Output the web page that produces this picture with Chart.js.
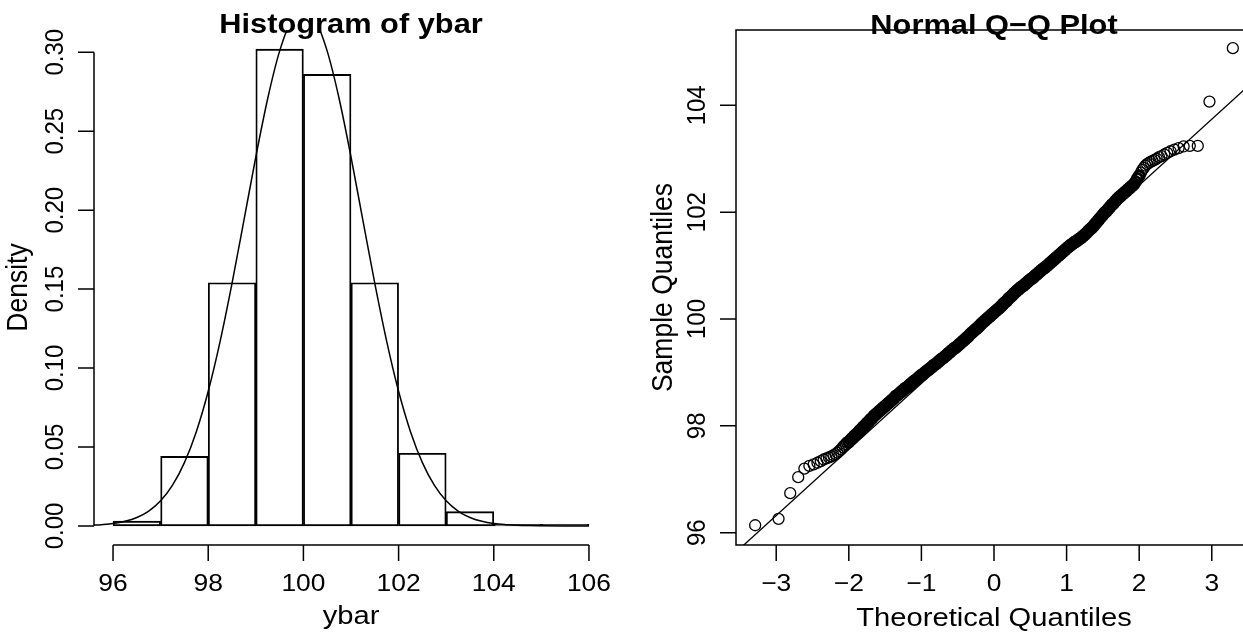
<!DOCTYPE html>
<html lang="en">
<head>
<meta charset="UTF-8" />
<title>Histogram of ybar / Normal Q-Q Plot</title>
<script src="https://cdn.jsdelivr.net/npm/chart.js@4.4.1/dist/chart.umd.min.js"></script>
<style>
  html, body { margin: 0; padding: 0; background: #fff; overflow: hidden; }
  #wrap { position: relative; width: 1243px; height: 632px; overflow: hidden; background: #fff; }
  #histCanvas { position: absolute; left: 0; top: 0; }
  #qqCanvas { position: absolute; left: 621px; top: 0; }
</style>
</head>
<body>
<div id="wrap">
  <canvas id="histCanvas" width="621" height="632"></canvas>
  <canvas id="qqCanvas" width="640" height="632"></canvas>
</div>
<script>
// ---- histogram data (density per bin of width 1) ----
const binCenters = [96.5, 97.5, 98.5, 99.5, 100.5, 101.5, 102.5, 103.5, 104.5, 105.5];
const binDensity = [0.003, 0.044, 0.154, 0.302, 0.286, 0.154, 0.046, 0.009, 0.001, 0.001];
const histXTicks = [96, 98, 100, 102, 104, 106];
const histYTicks = [0, 0.05, 0.1, 0.15, 0.2, 0.25, 0.3];
const histYLabels = ["0.00", "0.05", "0.10", "0.15", "0.20", "0.25", "0.30"];

// normal density curve drawn over the histogram
const curveX = [95.6, 95.75, 96, 96.25, 96.5, 96.75, 97, 97.25, 97.5, 97.75, 98, 98.25, 98.5, 98.75,
  99, 99.25, 99.5, 99.75, 100, 100.25, 100.5, 100.75, 101, 101.25, 101.5, 101.75, 102, 102.25,
  102.5, 102.75, 103, 103.25, 103.5, 103.75, 104, 104.25, 104.5, 104.75, 105, 105.5, 106];
const curveY = [0.0005, 0.0008, 0.0015, 0.0029, 0.0053, 0.0094, 0.0159, 0.0258, 0.0401, 0.0597, 0.0853, 0.1169, 0.1536, 0.1935,
  0.2337, 0.2707, 0.3007, 0.3202, 0.327, 0.3202, 0.3007, 0.2707, 0.2337, 0.1935, 0.1536, 0.1169, 0.0853, 0.0597,
  0.0401, 0.0258, 0.0159, 0.0094, 0.0053, 0.0029, 0.0015, 0.0008, 0.0004, 0.0002, 0.0001, 0, 0];

// ---- Q-Q plot data ----
const qqLowX = [-3.290, -2.968, -2.807, -2.697, -2.612, -2.543, -2.484, -2.432, -2.386, -2.346, -2.308,
  -2.273, -2.241, -2.211, -2.183, -2.157, -2.132, -2.108, -2.086, -2.064, -2.044, -2.024];
const qqLowY = [96.14, 96.26, 96.74, 97.04, 97.20, 97.25, 97.28, 97.31, 97.34, 97.37, 97.39,
  97.41, 97.43, 97.45, 97.47, 97.50, 97.53, 97.56, 97.60, 97.63, 97.66, 97.69];

const qqMidX = [-2.000, -1.975, -1.950, -1.925, -1.900, -1.875, -1.850, -1.825, -1.800, -1.775,
  -1.750, -1.725, -1.700, -1.675, -1.650, -1.625, -1.600, -1.575, -1.550, -1.525,
  -1.500, -1.475, -1.450, -1.425, -1.400, -1.375, -1.350, -1.325, -1.300, -1.275,
  -1.250, -1.225, -1.200, -1.175, -1.150, -1.125, -1.100, -1.075, -1.050, -1.025,
  -1.000, -0.975, -0.950, -0.925, -0.900, -0.875, -0.850, -0.825, -0.800, -0.775,
  -0.750, -0.725, -0.700, -0.675, -0.650, -0.625, -0.600, -0.575, -0.550, -0.525,
  -0.500, -0.475, -0.450, -0.425, -0.400, -0.375, -0.350, -0.325, -0.300, -0.275,
  -0.250, -0.225, -0.200, -0.175, -0.150, -0.125, -0.100, -0.075, -0.050, -0.025,
  0.000, 0.025, 0.050, 0.075, 0.100, 0.125, 0.150, 0.175, 0.200, 0.225,
  0.250, 0.275, 0.300, 0.325, 0.350, 0.375, 0.400, 0.425, 0.450, 0.475,
  0.500, 0.525, 0.550, 0.575, 0.600, 0.625, 0.650, 0.675, 0.700, 0.725,
  0.750, 0.775, 0.800, 0.825, 0.850, 0.875, 0.900, 0.925, 0.950, 0.975,
  1.000, 1.025, 1.050, 1.075, 1.100, 1.125, 1.150, 1.175, 1.200, 1.225,
  1.250, 1.275, 1.300, 1.325, 1.350, 1.375, 1.400, 1.425, 1.450, 1.475,
  1.500, 1.525, 1.550, 1.575, 1.600, 1.625, 1.650, 1.675, 1.700, 1.725,
  1.750, 1.775, 1.800, 1.825, 1.850, 1.875, 1.900, 1.925, 1.950, 1.975, 2.000];
const qqMidY = [97.70, 97.74, 97.77, 97.81, 97.84, 97.87, 97.91, 97.94, 97.98, 98.01,
  98.05, 98.08, 98.12, 98.15, 98.19, 98.22, 98.25, 98.28, 98.31, 98.34,
  98.37, 98.40, 98.43, 98.46, 98.49, 98.52, 98.56, 98.58, 98.61, 98.64,
  98.67, 98.70, 98.72, 98.75, 98.78, 98.81, 98.84, 98.86, 98.89, 98.92,
  98.95, 98.97, 99.00, 99.03, 99.05, 99.08, 99.11, 99.14, 99.16, 99.19,
  99.22, 99.25, 99.27, 99.30, 99.33, 99.36, 99.39, 99.42, 99.45, 99.47,
  99.50, 99.53, 99.56, 99.59, 99.62, 99.65, 99.68, 99.72, 99.75, 99.78,
  99.81, 99.84, 99.87, 99.91, 99.94, 99.97, 100.00, 100.03, 100.06, 100.09,
  100.12, 100.15, 100.18, 100.21, 100.24, 100.28, 100.31, 100.34, 100.38, 100.41,
  100.44, 100.48, 100.51, 100.54, 100.57, 100.60, 100.62, 100.65, 100.68, 100.71,
  100.74, 100.76, 100.79, 100.82, 100.85, 100.88, 100.91, 100.94, 100.96, 100.99,
  101.02, 101.05, 101.08, 101.11, 101.14, 101.17, 101.20, 101.23, 101.26, 101.29,
  101.32, 101.35, 101.38, 101.40, 101.43, 101.45, 101.47, 101.50, 101.52, 101.55,
  101.58, 101.61, 101.65, 101.68, 101.71, 101.75, 101.79, 101.83, 101.87, 101.91,
  101.95, 101.99, 102.02, 102.06, 102.10, 102.14, 102.17, 102.21, 102.25, 102.28,
  102.31, 102.34, 102.37, 102.40, 102.43, 102.46, 102.49, 102.52, 102.57, 102.63, 102.68];

const qqHighX = [2.024, 2.044, 2.064, 2.086, 2.108, 2.132, 2.157, 2.183, 2.211, 2.241, 2.273,
  2.308, 2.346, 2.386, 2.432, 2.484, 2.543, 2.612, 2.697, 2.807, 2.968, 3.290];
const qqHighY = [102.74, 102.79, 102.83, 102.87, 102.90, 102.92, 102.94, 102.96, 102.98, 103.00, 103.03,
  103.05, 103.08, 103.11, 103.14, 103.17, 103.20, 103.23, 103.24, 103.24, 104.07, 105.07];

// reference line through the quartiles
const qqLineX = [-3.6, 3.6];
const qqLineY = [95.58, 104.48];
const qqXTicks = [-3, -2, -1, 0, 1, 2, 3];
const qqYTicks = [96, 98, 100, 102, 104];

// ---- shared look ----
const FONT = '"Liberation Sans", Arial, Helvetica, sans-serif';
const TICK_FONT = '24px ' + FONT;
const LAB_FONT = '26.5px ' + FONT;
const MAIN_FONT = 'bold 28px ' + FONT;
const TEXT_SX = 1.1;   // the picture's text is a little wider than it is tall
const LINE_W = 1.5;
const TICK_LEN = 16;

function drawText(ctx, text, x, y, font, rotate) {
  ctx.save();
  ctx.font = font;
  ctx.fillStyle = '#000';
  ctx.textAlign = 'center';
  ctx.textBaseline = 'alphabetic';
  ctx.translate(x, y);
  ctx.scale(TEXT_SX, 1);
  if (rotate) ctx.rotate(-Math.PI / 2);
  ctx.fillText(text, 0, 0);
  ctx.restore();
}

function fmtMinus(v) {
  return v < 0 ? '\u2212' + Math.abs(v) : String(v);
}

// draws R-style axes: x axis along bottom, y axis along left, plus titles
function rAxes(id, cfg) {
  return {
    id: id,
    afterDatasetsDraw(chart) {
      const { ctx, chartArea, scales } = chart;
      const x = scales.x, y = scales.y;
      const left = chartArea.left, bottom = chartArea.bottom;
      ctx.save();
      ctx.strokeStyle = '#000';
      ctx.lineWidth = LINE_W;
      ctx.beginPath();
      if (cfg.box) {
        ctx.rect(left, chartArea.top, chartArea.right - left, bottom - chartArea.top);
      } else {
        ctx.moveTo(x.getPixelForValue(cfg.xTicks[0]), bottom);
        ctx.lineTo(x.getPixelForValue(cfg.xTicks[cfg.xTicks.length - 1]), bottom);
        ctx.moveTo(left, y.getPixelForValue(cfg.yTicks[0]));
        ctx.lineTo(left, y.getPixelForValue(cfg.yTicks[cfg.yTicks.length - 1]));
      }
      cfg.xTicks.forEach(t => {
        const px = x.getPixelForValue(t);
        ctx.moveTo(px, bottom);
        ctx.lineTo(px, bottom + TICK_LEN);
      });
      cfg.yTicks.forEach(t => {
        const py = y.getPixelForValue(t);
        ctx.moveTo(left, py);
        ctx.lineTo(left - TICK_LEN, py);
      });
      ctx.stroke();
      ctx.restore();

      cfg.xTicks.forEach((t, i) => {
        drawText(ctx, cfg.xLabels[i], x.getPixelForValue(t), bottom + cfg.xLabelGap, TICK_FONT, false);
      });
      cfg.yTicks.forEach((t, i) => {
        drawText(ctx, cfg.yLabels[i], left - cfg.yLabelGap, y.getPixelForValue(t), TICK_FONT, true);
      });
      const cx = (chartArea.left + chartArea.right) / 2;
      const cy = (chartArea.top + chartArea.bottom) / 2;
      drawText(ctx, cfg.main, cx, cfg.mainY, MAIN_FONT, false);
      drawText(ctx, cfg.xTitle, cx, cfg.xTitleY, LAB_FONT, false);
      drawText(ctx, cfg.yTitle, cfg.yTitleX, cy, LAB_FONT, true);
    }
  };
}

const baseOptions = {
  responsive: false,
  animation: false,
  devicePixelRatio: 1,
  events: [],
  plugins: { legend: { display: false }, tooltip: { enabled: false } }
};

// ---- left: histogram ----
new Chart(document.getElementById('histCanvas').getContext('2d'), {
  type: 'bar',
  data: {
    datasets: [
      {
        type: 'line',
        data: curveX.map((v, i) => ({ x: v, y: curveY[i] })),
        borderColor: '#000',
        borderWidth: 1.5,
        pointRadius: 0,
        fill: false,
        cubicInterpolationMode: 'monotone'
      },
      {
        type: 'bar',
        data: binCenters.map((v, i) => ({ x: v, y: binDensity[i] })),
        backgroundColor: 'rgba(0,0,0,0)',
        borderColor: '#000',
        borderWidth: 1.2,
        borderSkipped: false,
        barPercentage: 1,
        categoryPercentage: 1
      }
    ]
  },
  options: Object.assign({}, baseOptions, {
    layout: { padding: { left: 94, right: 13, top: 30, bottom: 87 } },
    scales: {
      x: { type: 'linear', min: 95.6, max: 106.4, offset: false, display: false,
           ticks: { stepSize: 1, includeBounds: false } },
      y: { type: 'linear', min: -0.0121, max: 0.3141, display: false }
    }
  }),
  plugins: [rAxes('histAxes', {
    box: false,
    xTicks: histXTicks, xLabels: histXTicks.map(String),
    yTicks: histYTicks, yLabels: histYLabels,
    xLabelGap: 46, yLabelGap: 31,
    main: 'Histogram of ybar', mainY: 33,
    xTitle: 'ybar', xTitleY: 624,
    yTitle: 'Density', yTitleX: 27
  })]
});

// ---- right: normal Q-Q plot ----
const pt = (xs, ys) => xs.map((v, i) => ({ x: v, y: ys[i] }));

new Chart(document.getElementById('qqCanvas').getContext('2d'), {
  type: 'scatter',
  data: {
    datasets: [
      {
        type: 'line',
        data: pt(qqLineX, qqLineY),
        borderColor: '#000',
        borderWidth: 1.3,
        pointRadius: 0,
        fill: false
      },
      {
        // sparse tails: single open circles
        data: pt(qqLowX, qqLowY).concat(pt(qqHighX, qqHighY)),
        pointStyle: 'circle',
        pointRadius: 5.5,
        borderWidth: 1.3,
        borderColor: '#000',
        backgroundColor: 'rgba(0,0,0,0)'
      },
      {
        // dense middle: overlapping circles merge into a solid band
        data: pt(qqMidX, qqMidY),
        pointStyle: 'circle',
        pointRadius: 5,
        borderWidth: 3,
        borderColor: '#000',
        backgroundColor: 'rgba(0,0,0,0)'
      }
    ]
  },
  options: Object.assign({}, baseOptions, {
    layout: { padding: { left: 115, right: 9, top: 30, bottom: 87 } },
    scales: {
      x: { type: 'linear', min: -3.554, max: 3.554, display: false },
      y: { type: 'linear', min: 95.77, max: 105.41, display: false }
    }
  }),
  plugins: [rAxes('qqAxes', {
    box: true,
    xTicks: qqXTicks, xLabels: qqXTicks.map(fmtMinus),
    yTicks: qqYTicks, yLabels: qqYTicks.map(String),
    xLabelGap: 46, yLabelGap: 31,
    main: 'Normal Q\u2212Q Plot', mainY: 34,
    xTitle: 'Theoretical Quantiles', xTitleY: 626,
    yTitle: 'Sample Quantiles', yTitleX: 51
  })]
});
</script>
</body>
</html>
